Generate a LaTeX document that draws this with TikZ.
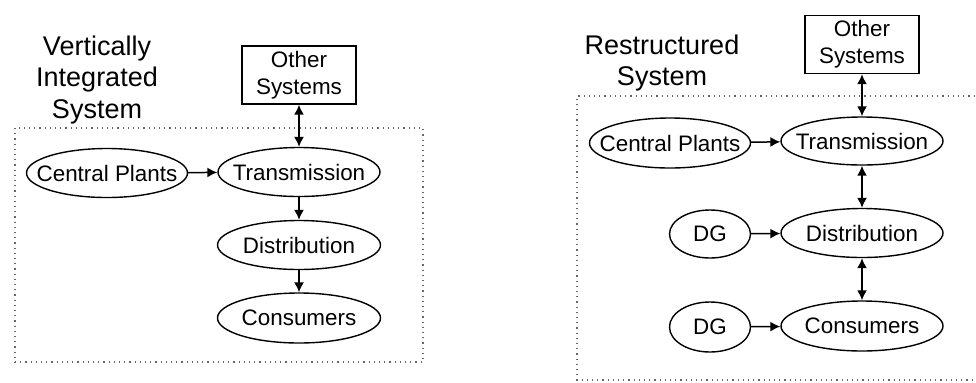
\documentclass[tikz,border=0pt]{standalone}
\usepackage{fontspec}
\setmainfont{Liberation Sans}
\usetikzlibrary{arrows.meta,shapes.geometric}
\newcommand{\zw}[1]{\makebox[0pt]{#1}}
\begin{document}
\begin{tikzpicture}[x=0.5pt,y=-0.5pt,
  ell/.style={draw,ellipse,line width=0.7pt,inner sep=0pt,font=\fontsize{11.2}{13}\selectfont},
  osbox/.style={draw,rectangle,line width=0.7pt,inner sep=0pt,minimum width=57pt,minimum height=29pt,align=center,font=\fontsize{11.2}{13.5}\selectfont},
  ttl/.style={align=center,inner sep=0pt,font=\fontsize{13.5}{15.7}\selectfont},
  frame/.style={draw=black!60,dotted,line width=0.6pt},
  arr/.style={line width=0.75pt,-{Latex[length=5pt,width=5pt]}},
  darr/.style={line width=0.75pt,{Latex[length=5pt,width=5pt]}-{Latex[length=5pt,width=5pt]}}]
\useasboundingbox (0,0) rectangle (976,382);
% ---------- left panel
\node[ttl] (t1) at (97,80) {Vertically\\Integrated\\System};
\draw[frame] (15,128) rectangle (423,362);
\node[osbox] (os1) at (299,75) {Other\\Systems};
\node[ell,minimum width=80.5pt,minimum height=24.5pt] (cp1) at (107,173) {\zw{Central Plants}};
\node[ell,minimum width=81pt,minimum height=24.5pt] (tr1) at (299,172) {\zw{Transmission}};
\node[ell,minimum width=81.5pt,minimum height=24.5pt] (di1) at (299,245) {\zw{Distribution}};
\node[ell,minimum width=81.5pt,minimum height=25pt] (co1) at (299,318) {\zw{Consumers}};
\draw[darr] (os1) -- (tr1);
\draw[arr] (cp1) -- (tr1);
\draw[arr] (tr1) -- (di1);
\draw[arr] (di1) -- (co1);
% ---------- right panel
\node[ttl] (t2) at (662,63) {Restructured\\System};
\coordinate (fa) at (980,96);
\coordinate (fb) at (577,96);
\coordinate (fc) at (577,380);
\coordinate (fd) at (980,380);
\draw[frame] (fa) -- (fb) -- (fc) -- (fd);
\node[osbox] (os2) at (862,44.5) {Other\\Systems};
\node[ell,minimum width=80.5pt,minimum height=25pt] (cp2) at (670,143) {\zw{Central Plants}};
\node[ell,minimum width=81pt,minimum height=24pt] (tr2) at (862,141) {\zw{Transmission}};
\node[ell,minimum width=40.5pt,minimum height=24pt] (dg1) at (710,234) {\zw{DG}};
\node[ell,minimum width=81pt,minimum height=24.5pt] (di2) at (862,233) {\zw{Distribution}};
\node[ell,minimum width=40.5pt,minimum height=25pt] (dg2) at (710,327) {\zw{DG}};
\node[ell,minimum width=81pt,minimum height=25pt] (co2) at (862,326) {\zw{Consumers}};
\draw[darr] (os2) -- (tr2);
\draw[darr] (tr2) -- (di2);
\draw[darr] (di2) -- (co2);
\draw[arr] (cp2) -- (tr2);
\draw[arr] (dg1) -- (di2);
\draw[arr] (dg2) -- (co2);
\end{tikzpicture}
\end{document}
